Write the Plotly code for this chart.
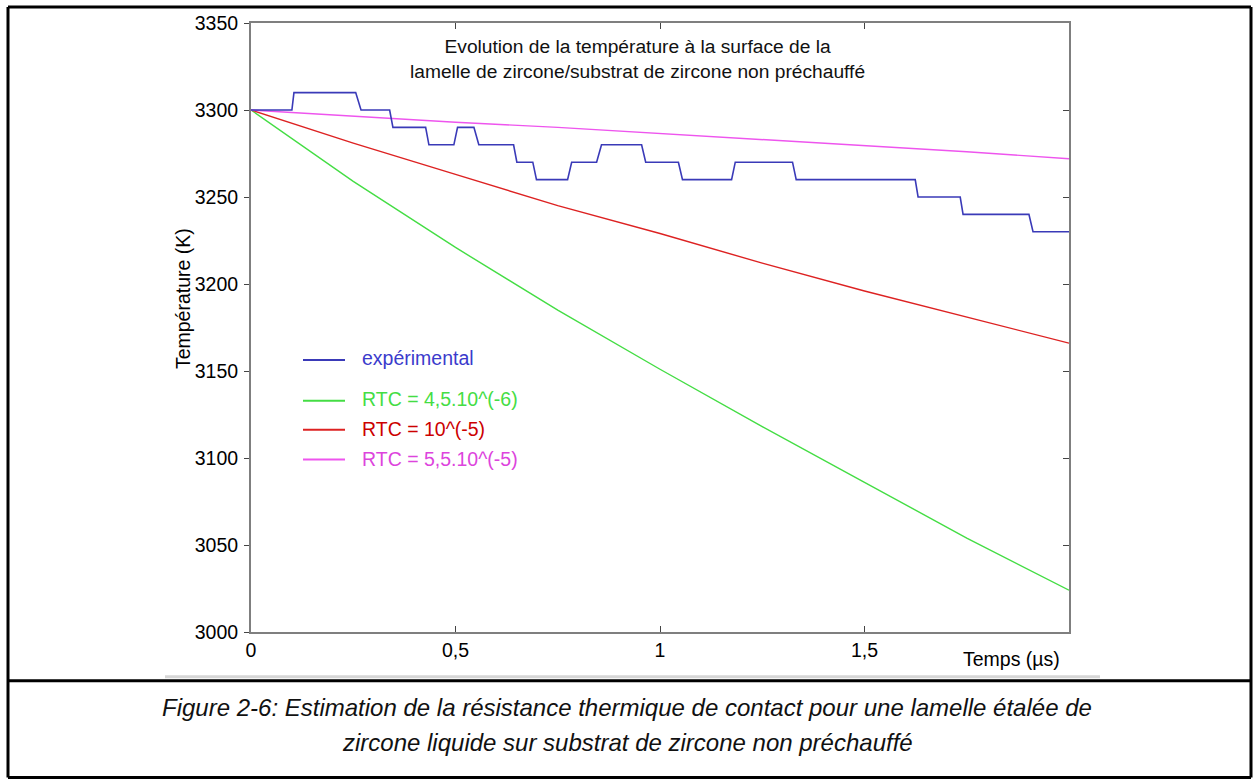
import plotly.graph_objects as go

# ---------------- data ----------------
exp_t = [0.0, 0.100, 0.105, 0.256, 0.269, 0.339, 0.347, 0.427, 0.435, 0.496, 0.505, 0.545,
         0.557, 0.642, 0.650, 0.689, 0.698, 0.774, 0.784, 0.845, 0.857, 0.955, 0.965, 1.045,
         1.055, 1.175, 1.184, 1.324, 1.333, 1.624, 1.631, 1.734, 1.741, 1.902, 1.912, 2.0]
exp_T = [3300, 3300, 3310, 3310, 3300, 3300, 3290, 3290, 3280, 3280, 3290, 3290,
         3280, 3280, 3270, 3270, 3260, 3260, 3270, 3270, 3280, 3280, 3270, 3270,
         3260, 3260, 3270, 3270, 3260, 3260, 3250, 3250, 3240, 3240, 3230, 3230]

model_t = [0.0, 0.25, 0.5, 0.75, 1.0, 1.25, 1.5, 1.75, 2.0]
rtc_45e6 = [3300, 3259, 3221, 3185, 3151, 3118, 3086, 3054, 3024]
rtc_1e5 = [3300, 3281, 3263, 3245, 3229, 3212, 3196, 3181, 3166]
rtc_55e5 = [3300, 3296.5, 3293, 3290, 3286.5, 3283, 3279.5, 3276, 3272]

x_tickvals = [0, 0.5, 1, 1.5]
x_ticktext = ["0", "0,5", "1", "1,5"]
y_tickvals = [3000, 3050, 3100, 3150, 3200, 3250, 3300, 3350]

legend_names = ["expérimental", "RTC = 4,5.10^(-6)", "RTC = 10^(-5)", "RTC = 5,5.10^(-5)"]
line_colors = ["#3a3ab8", "#44dd44", "#dd2222", "#ee55ee"]
text_colors = ["#3b3bcc", "#44dd44", "#cc0000", "#dd44dd"]

title_text = "Evolution de la température à la surface de la<br>lamelle de zircone/substrat de zircone non préchauffé"
caption_lines = ["Figure 2-6: Estimation de la résistance thermique de contact pour une lamelle étalée de",
                 "zircone liquide sur substrat de zircone non préchauffé"]

# ---------------- geometry ----------------
W, H = 1257, 780
L, R, T, B = 251, 1069, 21, 632
FONT = "Liberation Sans, Arial, sans-serif"


def px(x):
    return (x - L) / (R - L)


def py(y):
    return (B - y) / (B - T)


fig = go.Figure()
fig.add_trace(go.Scatter(x=model_t, y=rtc_45e6, mode="lines", line=dict(color=line_colors[1], width=1.4),
                         showlegend=False, hoverinfo="skip"))
fig.add_trace(go.Scatter(x=model_t, y=rtc_1e5, mode="lines", line=dict(color=line_colors[2], width=1.4),
                         showlegend=False, hoverinfo="skip"))
fig.add_trace(go.Scatter(x=model_t, y=rtc_55e5, mode="lines", line=dict(color=line_colors[3], width=1.4),
                         showlegend=False, hoverinfo="skip"))
fig.add_trace(go.Scatter(x=exp_t, y=exp_T, mode="lines", line=dict(color=line_colors[0], width=1.6),
                         showlegend=False, hoverinfo="skip"))
# dummy trace to activate right-side mirror axis
fig.add_trace(go.Scatter(x=[None], y=[None], yaxis="y2", mode="lines", showlegend=False, hoverinfo="skip"))

axis_line = "#7f7f7f"
fig.update_layout(
    width=W, height=H,
    margin=dict(l=L, r=W - R, t=T, b=H - B, pad=0),
    paper_bgcolor="white", plot_bgcolor="white",
    font=dict(family=FONT, color="black", size=19),
    showlegend=False,
    xaxis=dict(range=[0, 2], tickvals=x_tickvals, ticktext=x_ticktext, ticks="inside", ticklen=6,
               tickcolor="#444", showline=True, linecolor=axis_line, linewidth=2, mirror="ticks",
               showgrid=False, zeroline=False, tickfont=dict(size=19.5), fixedrange=True),
    yaxis=dict(range=[3000, 3350], tickvals=y_tickvals, ticks="outside", ticklen=5, tickcolor="#444",
               showline=True, linecolor=axis_line, linewidth=2, mirror=False, showgrid=False,
               zeroline=False, tickfont=dict(size=19.5), ticklabelstandoff=2),
    yaxis2=dict(range=[3000, 3350], tickvals=y_tickvals, ticks="inside", ticklen=6, tickcolor="#444",
                showline=True, linecolor=axis_line, linewidth=2, overlaying="y", side="right",
                showticklabels=False, showgrid=False, zeroline=False),
)

annotations = [
    dict(text=title_text, x=px(637), y=py(57), xref="paper", yref="paper", showarrow=False,
         font=dict(size=19.2, color="#111"), align="center", xanchor="center", yanchor="middle"),
    dict(text="Température (K)", x=px(183), y=py(298), xref="paper", yref="paper", showarrow=False,
         textangle=-90, font=dict(size=19.5), xanchor="center", yanchor="middle"),
    dict(text="Temps (µs)", x=px(1062), y=py(659), xref="paper", yref="paper", showarrow=False,
         font=dict(size=19.5), xanchor="right", yanchor="middle"),
]
for line_txt, yc in zip(caption_lines, [708, 743]):
    annotations.append(dict(text="<i>" + line_txt + "</i>", x=px(627), y=py(yc), xref="paper",
                            yref="paper", showarrow=False, font=dict(size=24, color="#111"),
                            xanchor="center", yanchor="middle"))

shapes = []
legend_y_line = [359, 400, 429, 459]
legend_y_text = [357, 398, 428, 458]
for name, lc, tc, yl, yt in zip(legend_names, line_colors, text_colors, legend_y_line, legend_y_text):
    shapes.append(dict(type="line", xref="paper", yref="paper", x0=px(303), x1=px(345), y0=py(yl),
                       y1=py(yl), line=dict(color=lc, width=2)))
    annotations.append(dict(text=name, x=px(360), y=py(yt), xref="paper", yref="paper", showarrow=False,
                            font=dict(size=19.5, color=tc), xanchor="left", yanchor="middle"))

# grey strip at bottom of the figure image
shapes.append(dict(type="line", xref="paper", yref="paper", x0=px(165), x1=px(1100),
                   y0=py(677), y1=py(677), line=dict(color="#d6d6d6", width=3), layer="below"))

# page frame and divider
frame = [
    (8, 5, 1251, 5), (8, 778, 1251, 778), (8, 5, 8, 778), (1251, 5, 1251, 778), (8, 681, 1251, 681)
]
for x0, y0, x1, y1 in frame:
    shapes.append(dict(type="line", xref="paper", yref="paper", x0=px(x0), x1=px(x1), y0=py(y0),
                       y1=py(y1), line=dict(color="black", width=3)))

fig.update_layout(shapes=shapes, annotations=annotations)

fig.write_html("out.html", config=dict(displayModeBar=False),
               post_script="document.body.style.margin='0';document.body.style.padding='0';")
